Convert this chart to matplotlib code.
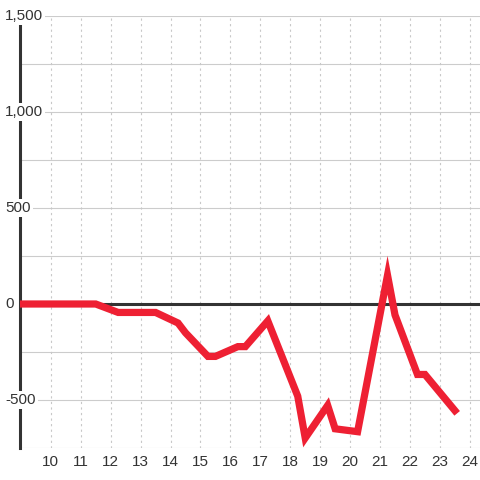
import numpy as np
import matplotlib
matplotlib.use("Agg")
import matplotlib.pyplot as plt
import matplotlib.transforms as mtrans

plt.rcParams['font.family'] = ['Liberation Sans', 'DejaVu Sans']

# data
hours = [9.0, 11.5, 12.25, 13.5, 14.25, 14.5, 15.25, 15.5, 16.25, 16.5, 17.25,
         18.25, 18.5, 19.25, 19.5, 20.25, 21.25, 21.5, 22.25, 22.5, 23.5]
values = [0, 0, -44, -44, -99, -150, -273, -273, -222, -222, -88,
          -480, -698, -528, -650, -665, 150, -57, -367, -367, -555]
y_ticks = [1500, 1000, 500, 0, -500]
y_labels = ["1,500", "1,000", "500", "0", "-500"]
x_ticks = list(range(10, 25))

fig = plt.figure(figsize=(4.8, 4.8), dpi=100)
ax = fig.add_axes([20/480, 32/480, 460/480, 432/480])
ax.set_xlim(8.97, 24.34)
ax.set_ylim(-750, 1500)

# grid
for yv in np.arange(-750, 1501, 250):
    ax.axhline(yv, color='#cccccc', lw=0.8, zorder=1)
for xv in x_ticks:
    ax.axvline(xv, color='#c8c8c8', lw=0.8, ls=(0, (2, 3)), zorder=1)
ax.axhline(0, color='#333333', lw=2.2, zorder=3)

ax.plot(hours, values, color='#ee2033', lw=5.2, solid_joinstyle='miter', zorder=4)

for s in ['top', 'right', 'bottom']:
    ax.spines[s].set_visible(False)
ax.spines['left'].set_color('#333333')
ax.spines['left'].set_linewidth(2.2)

ax.set_yticks([])
ax.set_xticks(x_ticks)
ax.set_xticklabels([str(v) for v in x_ticks], fontsize=11, color='#333333')
ax.tick_params(axis='x', length=0, pad=5)

tr = mtrans.blended_transform_factory(fig.transFigure, ax.transData)
for yv, lab in zip(y_ticks, y_labels):
    ax.text(5/480, yv, lab, transform=tr, ha='left', va='center', fontsize=11,
            color='#333333', zorder=6, clip_on=False,
            bbox=dict(facecolor='white', edgecolor='none', pad=1.5))

fig.savefig('out.png', dpi=100)
